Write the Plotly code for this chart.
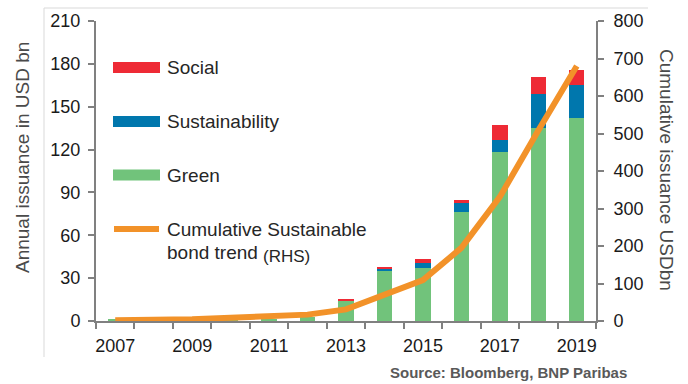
import plotly.graph_objects as go

# ---- data ----
years = [2007, 2008, 2009, 2010, 2011, 2012, 2013, 2014, 2015, 2016, 2017, 2018, 2019]
green = [0.8, 0.4, 1.0, 4.0, 1.0, 3.0, 14.5, 35.0, 37.0, 76.5, 118.0, 135.0, 142.0]
sustainability = [0, 0, 0, 0, 0, 0, 0, 1.5, 3.3, 6.0, 9.0, 24.0, 23.0]
social = [0, 0, 0, 0, 0, 0, 0.5, 1.0, 3.3, 2.0, 10.0, 12.0, 11.0]
cumulative = [2, 3, 5, 9, 12, 17, 31, 70, 109, 195, 331, 508, 680]

x_tick_labels = [2007, 2009, 2011, 2013, 2015, 2017, 2019]
left_ticks = [0, 30, 60, 90, 120, 150, 180, 210]
right_ticks = [0, 100, 200, 300, 400, 500, 600, 700, 800]

legend_names = ["Social", "Sustainability", "Green"]
line_name_1 = "Cumulative Sustainable"
line_name_2 = "bond trend"
line_name_3 = "(RHS)"

C_GREEN = "#71C37B"
C_BLUE = "#0077AD"
C_RED = "#EE2A35"
C_ORANGE = "#F29229"
C_AXIS = "#808080"
FONT = "Liberation Sans, Arial, sans-serif"

# pixel geometry helpers (plot area 96..596 x 21..321)
L, R, T, B = 96, 596, 21, 321
W, H = R - L, B - T
def px(x):
    return (x - L) / W
def py(y):
    return (B - y) / H

fig = go.Figure()
bar_w = 0.4
fig.add_trace(go.Bar(x=years, y=green, name="Green", marker_color=C_GREEN,
                     width=bar_w, marker_line_width=0))
fig.add_trace(go.Bar(x=years, y=sustainability, name="Sustainability", marker_color=C_BLUE,
                     width=bar_w, marker_line_width=0))
fig.add_trace(go.Bar(x=years, y=social, name="Social", marker_color=C_RED,
                     width=bar_w, marker_line_width=0))
fig.add_trace(go.Scatter(x=years, y=cumulative, yaxis="y2", mode="lines",
                         line=dict(color=C_ORANGE, width=6), name="Cumulative"))

fig.update_layout(
    width=688, height=384,
    margin=dict(l=L, r=688 - R, t=T, b=384 - B),
    paper_bgcolor="white", plot_bgcolor="white",
    barmode="stack", showlegend=False,
    font=dict(family=FONT, size=18, color="#1a1a1a"),
    xaxis=dict(
        range=[2006.5, 2019.5], tickmode="array", tickvals=x_tick_labels,
        ticktext=[str(v) for v in x_tick_labels],
        ticks="outside", ticklen=7, tickcolor="rgba(0,0,0,0)",
        showline=True, linecolor=C_AXIS, linewidth=2, showgrid=False, zeroline=False,
        minor=dict(tickmode="linear", tick0=2006.5, dtick=1, ticks="outside",
                   ticklen=6, tickcolor=C_AXIS, tickwidth=2, showgrid=False),
        tickfont=dict(size=18, color="#1a1a1a"),
    ),
    yaxis=dict(
        range=[0, 210], tickmode="array", tickvals=left_ticks,
        ticks="outside", ticklen=6, tickcolor=C_AXIS, tickwidth=2,
        showline=True, linecolor=C_AXIS, linewidth=2, showgrid=False, zeroline=False,
        tickfont=dict(size=18, color="#1a1a1a"), ticklabelstandoff=4,
    ),
    yaxis2=dict(
        range=[0, 800], tickmode="array", tickvals=right_ticks,
        overlaying="y", side="right",
        ticks="outside", ticklen=6, tickcolor=C_AXIS, tickwidth=2,
        showline=True, linecolor=C_AXIS, linewidth=2, showgrid=False, zeroline=False,
        tickfont=dict(size=18, color="#1a1a1a"), ticklabelstandoff=6,
    ),
)

shapes = []
annotations = []
# frame lines (light grey)
shapes.append(dict(type="line", xref="paper", yref="paper", x0=px(44), x1=px(44),
                   y0=py(8), y1=py(357), line=dict(color="#D9D9D9", width=1)))
shapes.append(dict(type="line", xref="paper", yref="paper", x0=px(44), x1=px(648),
                   y0=py(8), y1=py(8), line=dict(color="#D9D9D9", width=1)))

# manual legend
sw_cols = [C_RED, C_BLUE, C_GREEN]
sw_y = [67.5, 121.5, 175]
for name, col, yc in zip(legend_names, sw_cols, sw_y):
    shapes.append(dict(type="rect", xref="paper", yref="paper",
                       x0=px(113), x1=px(160), y0=py(yc - 5.5), y1=py(yc + 5.5),
                       fillcolor=col, line=dict(width=0)))
    annotations.append(dict(text=name, xref="paper", yref="paper", x=px(165), y=py(yc),
                            xanchor="left", yanchor="middle", showarrow=False,
                            font=dict(size=19, color="#262626")))
shapes.append(dict(type="line", xref="paper", yref="paper", x0=px(114), x1=px(159),
                   y0=py(229), y1=py(229), line=dict(color=C_ORANGE, width=6)))
annotations.append(dict(text=line_name_1, xref="paper", yref="paper", x=px(165), y=py(229),
                        xanchor="left", yanchor="middle", showarrow=False,
                        font=dict(size=19, color="#262626")))
annotations.append(dict(text=line_name_2, xref="paper", yref="paper", x=px(165), y=py(252),
                        xanchor="left", yanchor="middle", showarrow=False,
                        font=dict(size=19, color="#262626")))
annotations.append(dict(text=line_name_3, xref="paper", yref="paper", x=px(261), y=py(256),
                        xanchor="left", yanchor="middle", showarrow=False,
                        font=dict(size=17, color="#262626")))

# axis titles
annotations.append(dict(text="Annual issuance in USD bn", xref="paper", yref="paper",
                        x=px(22), y=py(158), xanchor="center", yanchor="middle",
                        textangle=-90, showarrow=False,
                        font=dict(size=19, color="#4a4a4a")))
annotations.append(dict(text="Cumulative issuance USDbn", xref="paper", yref="paper",
                        x=px(667), y=py(170), xanchor="center", yanchor="middle",
                        textangle=90, showarrow=False,
                        font=dict(size=19, color="#4a4a4a")))
# source
annotations.append(dict(text="<b>Source: Bloomberg, BNP Paribas</b>", xref="paper", yref="paper",
                        x=px(629), y=py(372), xanchor="right", yanchor="middle",
                        showarrow=False, font=dict(size=15, color="#595959")))

fig.update_layout(shapes=shapes, annotations=annotations)
fig.write_html("out.html", config={"displayModeBar": False},
               post_script="document.body.style.margin='0';document.body.style.padding='0';")
